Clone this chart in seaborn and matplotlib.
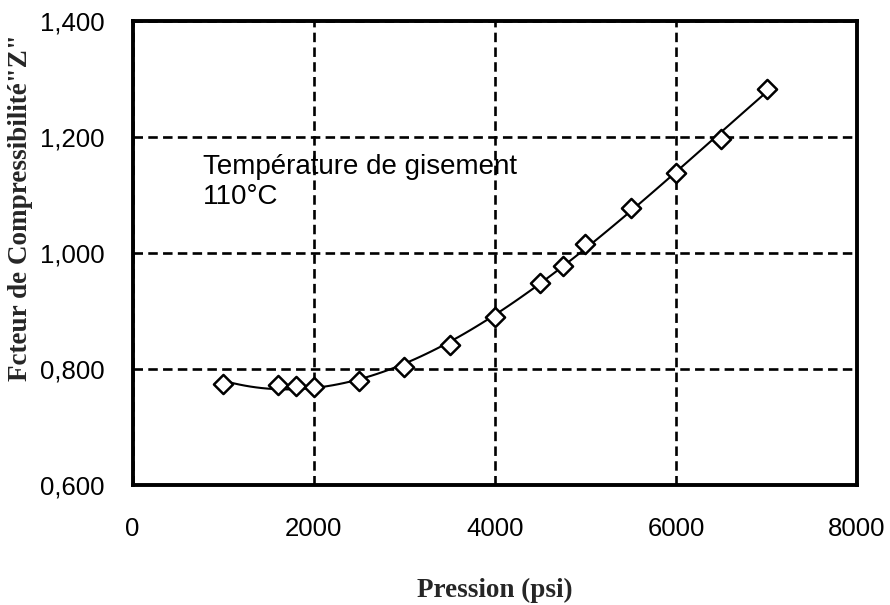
import numpy as np
import pandas as pd
import matplotlib
matplotlib.use('Agg')
import matplotlib.pyplot as plt
import seaborn as sns

# ==========================================
# Data
# ==========================================
PRESSION = [1000, 1600, 1800, 2000, 2500, 3000, 3500, 4000, 4500, 4750, 5000, 5500, 6000, 6500, 7000]
Z_FACTOR = [0.774, 0.772, 0.771, 0.769, 0.780, 0.804, 0.842, 0.889, 0.949, 0.977, 1.016, 1.078, 1.137, 1.196, 1.283]

X_TICKS = [0, 2000, 4000, 6000, 8000]
Y_TICKS = [0.6, 0.8, 1.0, 1.2, 1.4]
Y_TICK_LABELS = ['0,600', '0,800', '1,000', '1,200', '1,400']

df = pd.DataFrame({'pression': PRESSION, 'z': Z_FACTOR})

sns.set_style('white')
plt.rcParams['font.family'] = ['Liberation Sans', 'DejaVu Sans']

fig = plt.figure(figsize=(8.9, 6.05), dpi=100)
ax = fig.add_axes([0.149, 0.198, 0.814, 0.768])

# trendline (polynomial fit through the points) + diamond markers
sns.regplot(data=df, x='pression', y='z', order=3, ci=None, scatter=False, ax=ax,
            line_kws={'color': 'black', 'lw': 1.5, 'zorder': 3})
sns.scatterplot(data=df, x='pression', y='z', marker='D', s=95, ax=ax,
                facecolor='white', edgecolor='black', linewidth=1.8, zorder=4)

ax.set_xlim(0, 8000)
ax.set_ylim(0.6, 1.4)
ax.set_xticks(X_TICKS)
ax.set_yticks(Y_TICKS)
ax.set_yticklabels(Y_TICK_LABELS)
ax.tick_params(axis='both', direction='in', length=5, width=1, color='black',
               labelsize=18.5, labelcolor='black')
ax.tick_params(axis='x', pad=23)
ax.tick_params(axis='y', pad=20)

ax.grid(True, color='black', linestyle=(0, (3.6, 2)), linewidth=1.9)
for s in ax.spines.values():
    s.set_color('black'); s.set_linewidth(2.8); s.set_zorder(5)

ax.set_xlabel('Pression (psi)', family='Liberation Serif', fontweight='bold', fontsize=19.5)
ax.set_ylabel('Fcteur de Compressibilité"Z"', family='Liberation Serif', fontweight='bold', fontsize=19.5)
ax.xaxis.set_label_coords(0.5, -0.2)
ax.yaxis.set_label_coords(-0.138, 0.597)

ax.text(0.097, 0.713, 'Température de gisement\n110°C', transform=ax.transAxes,
        fontsize=20, va='top', ha='left', color='black', linespacing=1.2)

plt.savefig('out.png', dpi=100)
